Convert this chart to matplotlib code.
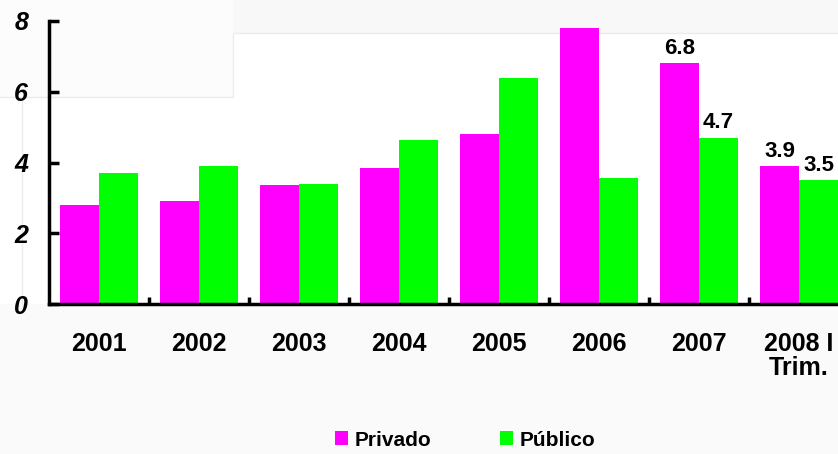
import matplotlib
matplotlib.use("Agg")
import matplotlib.pyplot as plt
from matplotlib.lines import Line2D
from matplotlib.patches import Rectangle
import numpy as np

plt.rcParams['font.family'] = ['Liberation Sans', 'DejaVu Sans']

years = ["2001", "2002", "2003", "2004", "2005", "2006", "2007", "2008 I\nTrim."]
privado = [2.8, 2.9, 3.35, 3.85, 4.8, 7.8, 6.8, 3.9]
publico = [3.7, 3.9, 3.4, 4.65, 6.4, 3.55, 4.7, 3.5]
labelled = {6: (6.8, 4.7), 7: (3.9, 3.5)}

col_priv = "#ff00ff"
col_pub = "#00ff00"

fig = plt.figure(figsize=(8.38, 4.54), dpi=100)
fig.patch.set_facecolor("white")

# faint background panels
fig.add_artist(Rectangle((0, 0), 1, 150 / 454, transform=fig.transFigure,
                         facecolor="#fafafa", edgecolor="none", zorder=-2))
fig.add_artist(Rectangle((233 / 838, 1 - 33 / 454), 1, 33 / 454, transform=fig.transFigure,
                         facecolor="#f8f8f8", edgecolor="none", zorder=-2))
fig.add_artist(Rectangle((0, 1 - 97 / 454), 233 / 838, 97 / 454, transform=fig.transFigure,
                         facecolor="#fcfcfc", edgecolor="none", zorder=-2))
for xs, ys in [([0, 233, 233, 838], [454 - 97, 454 - 97, 454 - 33, 454 - 33]),
               ([22, 22], [454 - 97, 454 - 304])]:
    fig.add_artist(Line2D(np.array(xs) / 838, np.array(ys) / 454,
                          transform=fig.transFigure, color="#ececec", lw=1, zorder=-1))

ax = fig.add_axes([49 / 838, 150 / 454, 800 / 838, 283 / 454])
ax.patch.set_alpha(0)

x = np.arange(len(years))
w = 0.39
ax.bar(x - w / 2, privado, w, color=col_priv, label="Privado")
ax.bar(x + w / 2, publico, w, color=col_pub, label="Público")

for i, (p, q) in labelled.items():
    ax.text(i - w / 2, p + 0.12, f"{p:.1f}", ha="center", va="bottom",
            fontsize=16, fontweight="bold")
    ax.text(i + w / 2, q + 0.12, f"{q:.1f}", ha="center", va="bottom",
            fontsize=16, fontweight="bold")

ax.set_xlim(-0.5, len(years) - 0.5)
ax.set_ylim(0, 8)
ax.set_yticks([0, 2, 4, 6, 8])
ax.set_yticklabels(["0", "2", "4", "6", "8"], fontsize=18, fontweight="bold", style="italic")
ax.set_xticks(x)
ax.set_xticklabels(years, fontsize=18, fontweight="bold", linespacing=1.0)
ax.set_xticks(x[:-1] + 0.5, minor=True)

for s in ["top", "right"]:
    ax.spines[s].set_visible(False)
for s in ["left", "bottom"]:
    ax.spines[s].set_linewidth(2.5)

ax.tick_params(axis="y", direction="in", length=7, width=2.5, pad=15)
ax.tick_params(axis="x", which="major", length=0, pad=20)
ax.tick_params(axis="x", which="minor", direction="in", length=5, width=2.5)

fig.legend(loc="center", bbox_to_anchor=(465 / 838, 14 / 454), ncol=2, frameon=False,
           prop={"size": 15, "weight": "bold"}, handlelength=0.65, handleheight=0.65,
           handletextpad=0.3, columnspacing=3.3, borderpad=0)

fig.savefig("out.png", dpi=100)
